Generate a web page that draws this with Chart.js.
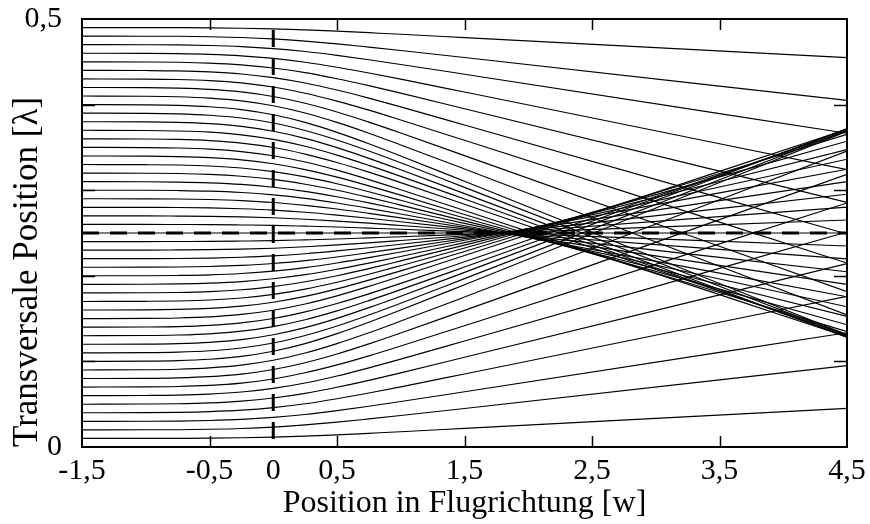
<!DOCTYPE html>
<html>
<head>
<meta charset="utf-8">
<script src="https://cdn.jsdelivr.net/npm/chart.js@4.4.0/dist/chart.umd.min.js"></script>
<style>
  html, body { margin: 0; padding: 0; background: #fff; }
  #wrap { width: 870px; height: 524px; }
</style>
</head>
<body>
<div id="wrap"><canvas id="chart" width="870" height="524"></canvas></div>
<script>
// Positions along the flight direction [w] at which each trajectory is sampled
const flightPositions = [-1.5, -1, -0.75, -0.5, -0.25, 0, 0.25, 0.5, 0.75, 1, 1.5, 4.5];

// Trajectories entering above the node at 0.25 λ (entry 0.26 ... 0.49)
const upperPaths = [
  [0.26, 0.2600, 0.2599, 0.2598, 0.2594, 0.2589, 0.2580, 0.2570, 0.2557, 0.2544, 0.2516, 0.2348],
  [0.27, 0.2700, 0.2698, 0.2695, 0.2689, 0.2678, 0.2661, 0.2639, 0.2615, 0.2588, 0.2532, 0.2197],
  [0.28, 0.2799, 0.2798, 0.2793, 0.2783, 0.2767, 0.2742, 0.2709, 0.2672, 0.2632, 0.2549, 0.2047],
  [0.29, 0.2899, 0.2897, 0.2891, 0.2878, 0.2856, 0.2822, 0.2780, 0.2730, 0.2677, 0.2566, 0.1899],
  [0.30, 0.2999, 0.2996, 0.2989, 0.2973, 0.2945, 0.2904, 0.2850, 0.2788, 0.2722, 0.2585, 0.1755],
  [0.31, 0.3099, 0.3095, 0.3086, 0.3068, 0.3035, 0.2987, 0.2924, 0.2852, 0.2774, 0.2612, 0.1638],
  [0.32, 0.3198, 0.3195, 0.3185, 0.3163, 0.3126, 0.3070, 0.2999, 0.2916, 0.2826, 0.2642, 0.1526],
  [0.33, 0.3298, 0.3294, 0.3283, 0.3259, 0.3217, 0.3155, 0.3075, 0.2982, 0.2882, 0.2676, 0.1428],
  [0.34, 0.3398, 0.3393, 0.3381, 0.3355, 0.3309, 0.3241, 0.3153, 0.3051, 0.2942, 0.2716, 0.1348],
  [0.35, 0.3498, 0.3493, 0.3480, 0.3451, 0.3402, 0.3329, 0.3234, 0.3124, 0.3006, 0.2763, 0.1288],
  [0.36, 0.3598, 0.3593, 0.3579, 0.3550, 0.3499, 0.3422, 0.3324, 0.3211, 0.3089, 0.2836, 0.1310],
  [0.37, 0.3698, 0.3692, 0.3678, 0.3647, 0.3593, 0.3513, 0.3410, 0.3290, 0.3162, 0.2897, 0.1290],
  [0.38, 0.3798, 0.3792, 0.3777, 0.3745, 0.3688, 0.3605, 0.3497, 0.3372, 0.3238, 0.2960, 0.1280],
  [0.39, 0.3898, 0.3892, 0.3876, 0.3843, 0.3785, 0.3698, 0.3587, 0.3458, 0.3320, 0.3033, 0.1300],
  [0.40, 0.3997, 0.3991, 0.3975, 0.3941, 0.3881, 0.3792, 0.3676, 0.3543, 0.3400, 0.3104, 0.1312],
  [0.41, 0.4098, 0.4092, 0.4076, 0.4044, 0.3987, 0.3902, 0.3792, 0.3666, 0.3529, 0.3248, 0.1543],
  [0.42, 0.4198, 0.4192, 0.4178, 0.4148, 0.4094, 0.4015, 0.3913, 0.3795, 0.3668, 0.3404, 0.1814],
  [0.43, 0.4298, 0.4293, 0.4280, 0.4253, 0.4205, 0.4133, 0.4041, 0.3935, 0.3820, 0.3583, 0.2149],
  [0.44, 0.4398, 0.4394, 0.4382, 0.4358, 0.4315, 0.4252, 0.4170, 0.4075, 0.3973, 0.3762, 0.2488],
  [0.45, 0.4498, 0.4495, 0.4485, 0.4464, 0.4427, 0.4373, 0.4302, 0.4221, 0.4134, 0.3952, 0.2858],
  [0.46, 0.4599, 0.4596, 0.4587, 0.4570, 0.4540, 0.4495, 0.4436, 0.4369, 0.4297, 0.4147, 0.3241],
  [0.47, 0.4699, 0.4697, 0.4690, 0.4677, 0.4654, 0.4620, 0.4575, 0.4524, 0.4469, 0.4355, 0.3665],
  [0.48, 0.4799, 0.4798, 0.4793, 0.4784, 0.4767, 0.4742, 0.4710, 0.4672, 0.4632, 0.4550, 0.4049],
  [0.49, 0.4900, 0.4899, 0.4897, 0.4892, 0.4884, 0.4873, 0.4858, 0.4840, 0.4822, 0.4783, 0.4549]
];

// Trajectory on the node itself
const centerPath = [0.25, 0.25, 0.25, 0.25, 0.25, 0.25, 0.25, 0.25, 0.25, 0.25, 0.25, 0.25];

// Trajectories entering below the node (entry 0.24 ... 0.01)
const lowerPaths = [
  [0.24, 0.2400, 0.2401, 0.2402, 0.2406, 0.2411, 0.2420, 0.2430, 0.2443, 0.2456, 0.2484, 0.2652],
  [0.23, 0.2300, 0.2302, 0.2305, 0.2311, 0.2322, 0.2339, 0.2361, 0.2385, 0.2412, 0.2468, 0.2803],
  [0.22, 0.2201, 0.2202, 0.2207, 0.2217, 0.2233, 0.2258, 0.2291, 0.2328, 0.2368, 0.2451, 0.2953],
  [0.21, 0.2101, 0.2103, 0.2109, 0.2122, 0.2144, 0.2178, 0.2220, 0.2270, 0.2323, 0.2434, 0.3101],
  [0.20, 0.2001, 0.2004, 0.2011, 0.2027, 0.2055, 0.2096, 0.2150, 0.2212, 0.2278, 0.2415, 0.3245],
  [0.19, 0.1901, 0.1905, 0.1914, 0.1932, 0.1965, 0.2013, 0.2076, 0.2148, 0.2226, 0.2388, 0.3362],
  [0.18, 0.1802, 0.1805, 0.1815, 0.1837, 0.1874, 0.1930, 0.2001, 0.2084, 0.2174, 0.2358, 0.3474],
  [0.17, 0.1702, 0.1706, 0.1717, 0.1741, 0.1783, 0.1845, 0.1925, 0.2018, 0.2118, 0.2324, 0.3572],
  [0.16, 0.1602, 0.1607, 0.1619, 0.1645, 0.1691, 0.1759, 0.1847, 0.1949, 0.2058, 0.2284, 0.3652],
  [0.15, 0.1502, 0.1507, 0.1520, 0.1549, 0.1598, 0.1671, 0.1766, 0.1876, 0.1994, 0.2237, 0.3712],
  [0.14, 0.1402, 0.1407, 0.1421, 0.1450, 0.1501, 0.1578, 0.1676, 0.1789, 0.1911, 0.2164, 0.3690],
  [0.13, 0.1302, 0.1308, 0.1322, 0.1353, 0.1407, 0.1487, 0.1590, 0.1710, 0.1838, 0.2103, 0.3710],
  [0.12, 0.1202, 0.1208, 0.1223, 0.1255, 0.1312, 0.1395, 0.1503, 0.1628, 0.1762, 0.2040, 0.3720],
  [0.11, 0.1102, 0.1108, 0.1124, 0.1157, 0.1215, 0.1302, 0.1413, 0.1542, 0.1680, 0.1967, 0.3700],
  [0.10, 0.1003, 0.1009, 0.1025, 0.1059, 0.1119, 0.1208, 0.1324, 0.1457, 0.1600, 0.1896, 0.3688],
  [0.09, 0.0902, 0.0908, 0.0924, 0.0956, 0.1013, 0.1098, 0.1208, 0.1334, 0.1471, 0.1752, 0.3457],
  [0.08, 0.0802, 0.0808, 0.0822, 0.0852, 0.0906, 0.0985, 0.1087, 0.1205, 0.1332, 0.1596, 0.3186],
  [0.07, 0.0702, 0.0707, 0.0720, 0.0747, 0.0795, 0.0867, 0.0959, 0.1065, 0.1180, 0.1417, 0.2851],
  [0.06, 0.0602, 0.0606, 0.0618, 0.0642, 0.0685, 0.0748, 0.0830, 0.0925, 0.1027, 0.1238, 0.2512],
  [0.05, 0.0502, 0.0505, 0.0515, 0.0536, 0.0573, 0.0627, 0.0698, 0.0779, 0.0866, 0.1048, 0.2142],
  [0.04, 0.0401, 0.0404, 0.0413, 0.0430, 0.0460, 0.0505, 0.0564, 0.0631, 0.0703, 0.0853, 0.1759],
  [0.03, 0.0301, 0.0303, 0.0310, 0.0323, 0.0346, 0.0380, 0.0425, 0.0476, 0.0531, 0.0645, 0.1335],
  [0.02, 0.0201, 0.0202, 0.0207, 0.0216, 0.0233, 0.0258, 0.0290, 0.0328, 0.0368, 0.0450, 0.0951],
  [0.01, 0.0100, 0.0101, 0.0103, 0.0108, 0.0116, 0.0127, 0.0142, 0.0160, 0.0178, 0.0217, 0.0451]
];

// Axis labels and marks
const xTickLabels = [-1.5, -0.5, 0, 0.5, 1.5, 2.5, 3.5, 4.5];
const xTickMarks = [-0.5, 0.5, 1.5, 2.5, 3.5];
const yTickLabels = [0, 0.5];
const yTickMarks = [0.1, 0.2, 0.3, 0.4];

// Reference lines: beam centre (x = 0) and node (y = 0.25)
const beamCentre = 0;
const nodePosition = 0.25;

const SERIF = '"Liberation Serif", "Times New Roman", serif';
const fmt = v => String(v).replace('.', ',');

function toPoints(row) {
  return row.map((y, i) => ({ x: flightPositions[i], y }));
}

const pathStyle = {
  borderColor: '#000',
  borderWidth: 1.15,
  pointRadius: 0,
  fill: false,
  cubicInterpolationMode: 'monotone'
};

const datasets = [
  {
    label: 'beam centre',
    data: [{ x: beamCentre, y: 0.5 }, { x: beamCentre, y: 0 }],
    borderColor: '#000', borderWidth: 3, pointRadius: 0,
    borderDash: [17, 11], borderDashOffset: 17, borderCapStyle: 'butt',
    tension: 0, order: -1
  },
  {
    label: 'node',
    data: [{ x: -1.5, y: nodePosition }, { x: 4.5, y: nodePosition }],
    borderColor: '#000', borderWidth: 3, pointRadius: 0,
    borderDash: [17, 11], borderDashOffset: 0, borderCapStyle: 'butt',
    tension: 0, order: -1
  }
];
upperPaths.forEach((row, i) => datasets.push({ ...pathStyle, label: 'upper ' + i, data: toPoints(row) }));
datasets.push({ ...pathStyle, label: 'centre', data: toPoints(centerPath) });
lowerPaths.forEach((row, i) => datasets.push({ ...pathStyle, label: 'lower ' + i, data: toPoints(row) }));

// Frame with inward tick marks on all four sides
const frameTicks = {
  id: 'frameTicks',
  afterDatasetsDraw(chart) {
    const { ctx, chartArea: a, scales: { x, y } } = chart;
    ctx.save();
    ctx.strokeStyle = '#000';
    ctx.lineWidth = 1.5;
    xTickMarks.forEach(v => {
      const px = Math.round(x.getPixelForValue(v)) + 0.5;
      ctx.beginPath();
      ctx.moveTo(px, a.bottom); ctx.lineTo(px, a.bottom - 11);
      ctx.moveTo(px, a.top); ctx.lineTo(px, a.top + 11);
      ctx.stroke();
    });
    yTickMarks.forEach(v => {
      const py = Math.round(y.getPixelForValue(v)) + 0.5;
      ctx.beginPath();
      ctx.moveTo(a.left, py); ctx.lineTo(a.left + 13, py);
      ctx.moveTo(a.right, py); ctx.lineTo(a.right - 13, py);
      ctx.stroke();
    });
    ctx.lineWidth = 2;
    ctx.strokeRect(a.left, a.top, a.right - a.left, a.bottom - a.top);
    ctx.restore();
  }
};

new Chart(document.getElementById('chart'), {
  type: 'line',
  data: { datasets },
  options: {
    responsive: false,
    animation: false,
    devicePixelRatio: 1,
    events: [],
    layout: { padding: { top: 19, right: 23, bottom: 0, left: 0 } },
    plugins: { legend: { display: false }, tooltip: { enabled: false } },
    scales: {
      x: {
        type: 'linear',
        min: -1.5, max: 4.5,
        grid: { display: false },
        border: { display: false },
        afterBuildTicks: s => { s.ticks = xTickLabels.map(v => ({ value: v })); },
        afterFit: s => { s.height = 77; },
        ticks: {
          autoSkip: false, maxRotation: 0, padding: -2,
          color: '#000', font: { family: SERIF, size: 30 },
          callback: v => fmt(v)
        },
        title: {
          display: true, text: 'Position in Flugrichtung [w]',
          color: '#000', font: { family: SERIF, size: 32 },
          padding: { top: 0, bottom: 1 }
        }
      },
      y: {
        type: 'linear',
        min: 0, max: 0.5,
        grid: { display: false },
        border: { display: false },
        afterBuildTicks: s => { s.ticks = yTickLabels.map(v => ({ value: v })); },
        afterFit: s => { s.width = 82; s.paddingTop = 0; s.paddingBottom = 0; },
        ticks: {
          autoSkip: false, padding: 12,
          color: '#000', font: { family: SERIF, size: 30 },
          callback: v => fmt(v)
        },
        title: {
          display: true, text: 'Transversale Position [λ]', align: 'start',
          color: '#000', font: { family: SERIF, size: 35 },
          padding: { top: 7, bottom: 0 }
        }
      }
    }
  },
  plugins: [frameTicks]
});
</script>
</body>
</html>
